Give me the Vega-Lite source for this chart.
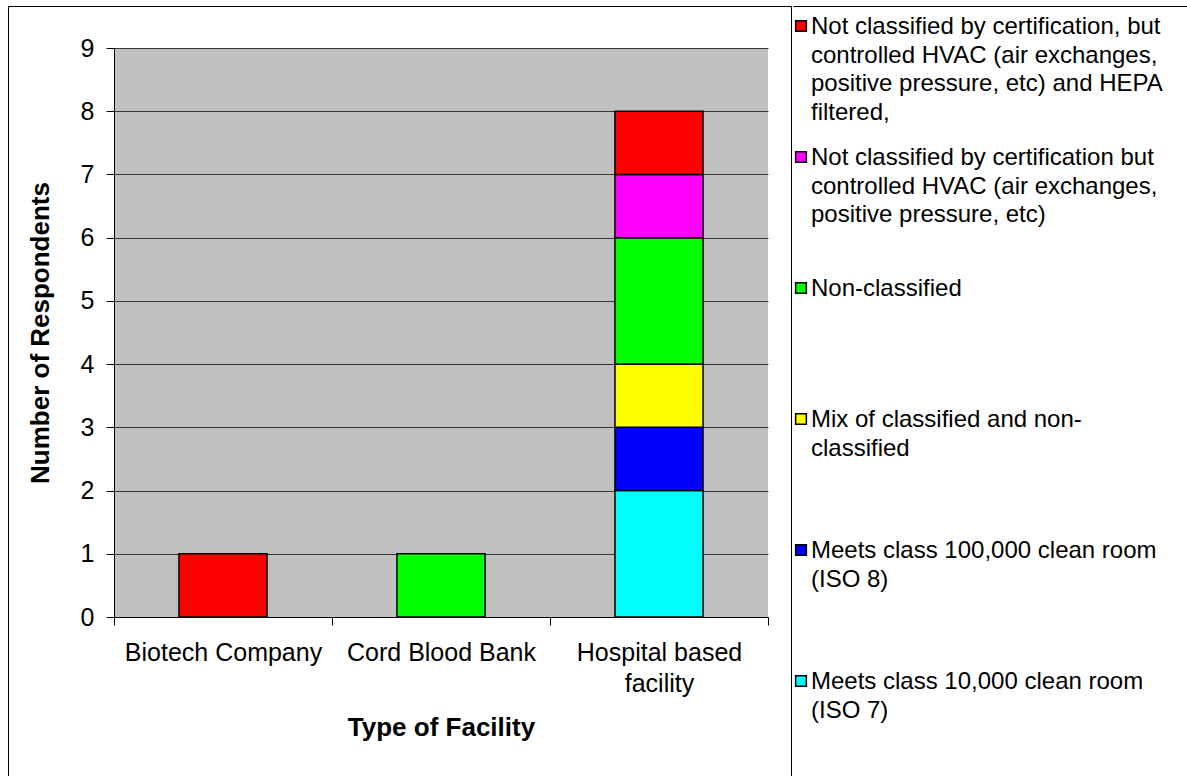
{
  "$schema": "https://vega.github.io/schema/vega-lite/v6.json",
  "padding": {"left": 7, "top": 5, "right": 0, "bottom": 0},
  "background": "white",
  "spacing": 0,
  "config": {
    "font": "Liberation Sans",
    "axis": {"labelColor": "black", "titleColor": "black", "labelFont": "Liberation Sans", "titleFont": "Liberation Sans"},
    "text": {"font": "Liberation Sans"}
  },
  "datasets": {
    "bars": [
      {"facility": "Biotech Company", "series": "Not classified by certification, but controlled HVAC (air exchanges, positive pressure, etc) and HEPA filtered,", "count": 1},
      {"facility": "Cord Blood Bank", "series": "Non-classified", "count": 1},
      {"facility": "Hospital based facility", "series": "Meets class 10,000 clean room (ISO 7)", "count": 2},
      {"facility": "Hospital based facility", "series": "Meets class 100,000 clean room (ISO 8)", "count": 1},
      {"facility": "Hospital based facility", "series": "Mix of classified and non-classified", "count": 1},
      {"facility": "Hospital based facility", "series": "Non-classified", "count": 2},
      {"facility": "Hospital based facility", "series": "Not classified by certification but controlled HVAC (air exchanges, positive pressure, etc)", "count": 1},
      {"facility": "Hospital based facility", "series": "Not classified by certification, but controlled HVAC (air exchanges, positive pressure, etc) and HEPA filtered,", "count": 1}
    ],
    "legend": [
      {"series": "Not classified by certification, but controlled HVAC (air exchanges, positive pressure, etc) and HEPA filtered,", "label": "Not classified by certification, but\ncontrolled HVAC (air exchanges,\npositive pressure, etc) and HEPA\nfiltered,"},
      {"series": "Not classified by certification but controlled HVAC (air exchanges, positive pressure, etc)", "label": "Not classified by certification but\ncontrolled HVAC (air exchanges,\npositive pressure, etc)"},
      {"series": "Non-classified", "label": "Non-classified"},
      {"series": "Mix of classified and non-classified", "label": "Mix of classified and non-\nclassified"},
      {"series": "Meets class 100,000 clean room (ISO 8)", "label": "Meets class 100,000 clean room\n(ISO 8)"},
      {"series": "Meets class 10,000 clean room (ISO 7)", "label": "Meets class 10,000 clean room\n(ISO 7)"}
    ]
  },
  "hconcat": [
    {
      "width": 783,
      "height": 770,
      "view": {"stroke": "black", "strokeWidth": 1, "fill": "white"},
      "data": {"name": "bars"},
      "encoding": {
        "x": {
          "field": "facility",
          "type": "nominal",
          "sort": ["Biotech Company", "Cord Blood Bank", "Hospital based facility"],
          "scale": {"range": [106, 760], "paddingInner": 0, "paddingOuter": 0},
          "axis": {
            "title": "Type of Facility",
            "orient": "bottom",
            "offset": -159,
            "tickBand": "extent",
            "tickSize": 8,
            "tickColor": "black",
            "domainColor": "black",
            "labelFontSize": 25,
            "labelPadding": 15,
            "labelLineHeight": 31,
            "labelLimit": 400,
            "labelAngle": 0,
            "labelOverlap": false,
            "labelExpr": "datum.label == 'Hospital based facility' ? ['Hospital based', 'facility'] : datum.label",
            "titleFontSize": 26,
            "titleFontWeight": "bold",
            "titlePadding": 18,
            "grid": false
          }
        }
      },
      "layer": [
        {
          "transform": [{"aggregate": [{"op": "count", "as": "n"}], "groupby": ["facility"]}],
          "mark": {"type": "rect", "fill": "black", "opacity": 0.247},
          "encoding": {
            "y": {
              "datum": 0,
              "type": "quantitative",
              "scale": {"domain": [0, 9], "range": [611, 42], "nice": false},
              "axis": {
                "title": "Number of Respondents",
                "values": [0, 1, 2, 3, 4, 5, 6, 7, 8, 9],
                "offset": -106,
                "tickSize": 8,
                "tickColor": "black",
                "domainColor": "black",
                "labelFontSize": 25,
                "labelPadding": 12,
                "grid": true,
                "gridColor": "#4a4a4a",
                "gridOpacity": 1,
                "titleFontSize": 26,
                "titleFontWeight": "bold",
                "titlePadding": 27,
                "labelFlush": false,
                "labelOverlap": false
              }
            },
            "y2": {"datum": 9}
          }
        },
        {
          "mark": {"type": "bar", "width": {"band": 0.404}, "stroke": "black", "strokeWidth": 1.5},
          "encoding": {
            "y": {
              "field": "count",
              "type": "quantitative",
              "scale": {"domain": [0, 9], "range": [611, 42], "nice": false},
              "axis": {
                "title": "Number of Respondents",
                "values": [0, 1, 2, 3, 4, 5, 6, 7, 8, 9],
                "offset": -106,
                "tickSize": 8,
                "tickColor": "black",
                "domainColor": "black",
                "labelFontSize": 25,
                "labelPadding": 12,
                "grid": true,
                "gridColor": "#4a4a4a",
                "gridOpacity": 1,
                "titleFontSize": 26,
                "titleFontWeight": "bold",
                "titlePadding": 27,
                "labelFlush": false,
                "labelOverlap": false
              }
            },
            "color": {
              "field": "series",
              "type": "nominal",
              "scale": {
                "domain": [
                  "Not classified by certification, but controlled HVAC (air exchanges, positive pressure, etc) and HEPA filtered,",
                  "Not classified by certification but controlled HVAC (air exchanges, positive pressure, etc)",
                  "Non-classified",
                  "Mix of classified and non-classified",
                  "Meets class 100,000 clean room (ISO 8)",
                  "Meets class 10,000 clean room (ISO 7)"
                ],
                "range": ["#FF0000", "#FF00FF", "#00FF00", "#FFFF00", "#0000FF", "#00FFFF"]
              },
              "legend": null
            },
            "order": {"field": "series", "sort": "ascending"}
          }
        }
      ]
    },
    {
      "width": 395,
      "height": 770,
      "view": {"stroke": null},
      "data": {"name": "legend"},
      "layer": [
        {
          "mark": {"type": "point", "shape": "square", "filled": true, "size": 115, "stroke": "black", "strokeWidth": 1.5, "opacity": 1},
          "encoding": {
            "x": {
              "datum": 8,
              "type": "quantitative",
              "scale": {"domain": [0, 395], "nice": false, "zero": false},
              "axis": {"orient": "top", "domain": true, "domainColor": "black", "ticks": false, "labels": false, "grid": false, "title": null}
            },
            "y": {
              "field": "series",
              "type": "nominal",
              "scale": {
                "type": "point",
                "domain": [
                  "Not classified by certification, but controlled HVAC (air exchanges, positive pressure, etc) and HEPA filtered,",
                  "Not classified by certification but controlled HVAC (air exchanges, positive pressure, etc)",
                  "Non-classified",
                  "Mix of classified and non-classified",
                  "Meets class 100,000 clean room (ISO 8)",
                  "Meets class 10,000 clean room (ISO 7)"
                ],
                "range": [20, 675],
                "padding": 0
              },
              "axis": null
            },
            "color": {
              "field": "series",
              "type": "nominal",
              "scale": {
                "domain": [
                  "Not classified by certification, but controlled HVAC (air exchanges, positive pressure, etc) and HEPA filtered,",
                  "Not classified by certification but controlled HVAC (air exchanges, positive pressure, etc)",
                  "Non-classified",
                  "Mix of classified and non-classified",
                  "Meets class 100,000 clean room (ISO 8)",
                  "Meets class 10,000 clean room (ISO 7)"
                ],
                "range": ["#FF0000", "#FF00FF", "#00FF00", "#FFFF00", "#0000FF", "#00FFFF"]
              },
              "legend": null
            }
          }
        },
        {
          "mark": {"type": "text", "align": "left", "baseline": "alphabetic", "dy": 8, "fontSize": 24, "lineHeight": 28.5, "lineBreak": "\n", "color": "black"},
          "encoding": {
            "x": {
              "datum": 18,
              "type": "quantitative",
              "scale": {"domain": [0, 395], "nice": false, "zero": false},
              "axis": {"orient": "top", "domain": true, "domainColor": "black", "ticks": false, "labels": false, "grid": false, "title": null}
            },
            "y": {
              "field": "series",
              "type": "nominal",
              "scale": {
                "type": "point",
                "domain": [
                  "Not classified by certification, but controlled HVAC (air exchanges, positive pressure, etc) and HEPA filtered,",
                  "Not classified by certification but controlled HVAC (air exchanges, positive pressure, etc)",
                  "Non-classified",
                  "Mix of classified and non-classified",
                  "Meets class 100,000 clean room (ISO 8)",
                  "Meets class 10,000 clean room (ISO 7)"
                ],
                "range": [20, 675],
                "padding": 0
              },
              "axis": null
            },
            "text": {"field": "label"}
          }
        }
      ]
    }
  ]
}
